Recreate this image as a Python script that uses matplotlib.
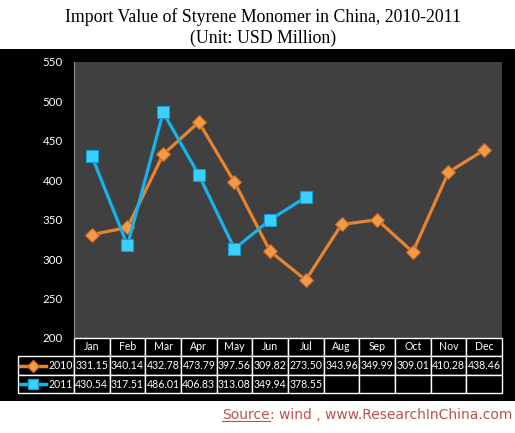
import matplotlib
matplotlib.use("Agg")
import matplotlib.pyplot as plt
from matplotlib.patches import Rectangle
from matplotlib.lines import Line2D
from matplotlib.table import Table

months = ["Jan", "Feb", "Mar", "Apr", "May", "Jun", "Jul", "Aug", "Sep", "Oct", "Nov", "Dec"]
v2010 = [331.15, 340.14, 432.78, 473.79, 397.56, 309.82, 273.50, 343.96, 349.99, 309.01, 410.28, 438.46]
v2011 = [430.54, 317.51, 486.01, 406.83, 313.08, 349.94, 378.55]
yticks = [200, 250, 300, 350, 400, 450, 500, 550]

c2010 = "#e8842f"
c2011 = "#16b4ea"
W, H = 515.0, 433.0

fig = plt.figure(figsize=(W / 100, H / 100), dpi=100, facecolor="white")
# black chart area
fig.patches.append(Rectangle((0, (H - 401) / H), 1, 352 / H, transform=fig.transFigure,
                             facecolor="black", edgecolor="none", zorder=-10))

ax = fig.add_axes([74 / W, (H - 338) / H, 428 / W, 276 / H])
ax.set_facecolor("#404040")
x = list(range(12))
ax.plot(x, v2010, color=c2010, lw=2.3, marker="D", ms=7.5, mfc="#f29a4a", mec="#c96a1e", mew=0.8, zorder=3)
ax.plot(x[:len(v2011)], v2011, color=c2011, lw=2.3, marker="s", ms=8.5, mfc="#3cd0ff", mec="#0f9fd6", mew=0.8, zorder=4)
ax.set_xlim(-0.5, 11.5)
ax.set_ylim(200, 550)
ax.set_yticks(yticks)
ax.set_xticks([])
ax.tick_params(axis="y", length=0, pad=8, colors="white", labelsize=8.3)
for lab in ax.get_yticklabels():
    lab.set_fontfamily("Lato")
for s in ["top", "right", "bottom"]:
    ax.spines[s].set_visible(False)
ax.spines["left"].set_color("#909090")

# data table below the plot (bbox covers month columns only, label column hangs left)
tb = Table(ax, bbox=[0, -(393 - 338) / 276, 1, 55 / 276])
cw = 428 / 12
rh = [18, 19, 18]
for j, m in enumerate(months):
    tb.add_cell(0, j, width=cw, height=rh[0], text=m, loc="center", facecolor="black", edgecolor="white")
for r, vals, lab in [(1, v2010, "2010"), (2, v2011, "2011")]:
    tb.add_cell(r, -1, width=56, height=rh[r], text=lab, loc="right", facecolor="black", edgecolor="white")
    for j in range(12):
        t = "%.2f" % vals[j] if j < len(vals) else ""
        tb.add_cell(r, j, width=cw, height=rh[r], text=t, loc="center", facecolor="black", edgecolor="white")
tb.auto_set_font_size(False)
for (r, c), cell in tb.get_celld().items():
    cell.set_linewidth(1.0)
    cell.PAD = 0.02
    cell.get_text().set_color("white")
    cell.get_text().set_fontsize(7.6)
    cell.get_text().set_fontfamily("Lato")
ax.add_table(tb)

# legend keys inside row label cells
for yy, col, mk, ms, mfc, mec in [(365.5, c2010, "D", 6.5, "#f29a4a", "#c96a1e"),
                                  (384, c2011, "s", 7, "#3cd0ff", "#0f9fd6")]:
    fig.add_artist(Line2D([20 / W, 33 / W, 46 / W], [(H - yy) / H] * 3, color=col, lw=2.5,
                          marker=mk, ms=ms, mfc=mfc, mec=mec, markevery=[1]))

# title
fig.text(263 / W, (H - 17) / H, "Import Value of Styrene Monomer in China, 2010-2011",
         ha="center", va="center", family="Liberation Serif", fontsize=12.8)
fig.text(263 / W, (H - 38) / H, "(Unit: USD Million)",
         ha="center", va="center", family="Liberation Serif", fontsize=12.8)

# source line
red = "#c0504d"
rest = fig.text(512 / W, (H - 415) / H, ": wind , www.ResearchInChina.com", ha="right", va="center",
                color=red, fontsize=10)
fig.canvas.draw()
bb = rest.get_window_extent()
src = fig.text(bb.x0 / W, (H - 415) / H, "Source", ha="right", va="center", color=red, fontsize=10)
fig.canvas.draw()
sb = src.get_window_extent()
fig.add_artist(Line2D([sb.x0 / W, sb.x1 / W], [(sb.y0 + 1) / H] * 2, color=red, lw=0.8))

fig.savefig("out.png", dpi=100, facecolor="white")
